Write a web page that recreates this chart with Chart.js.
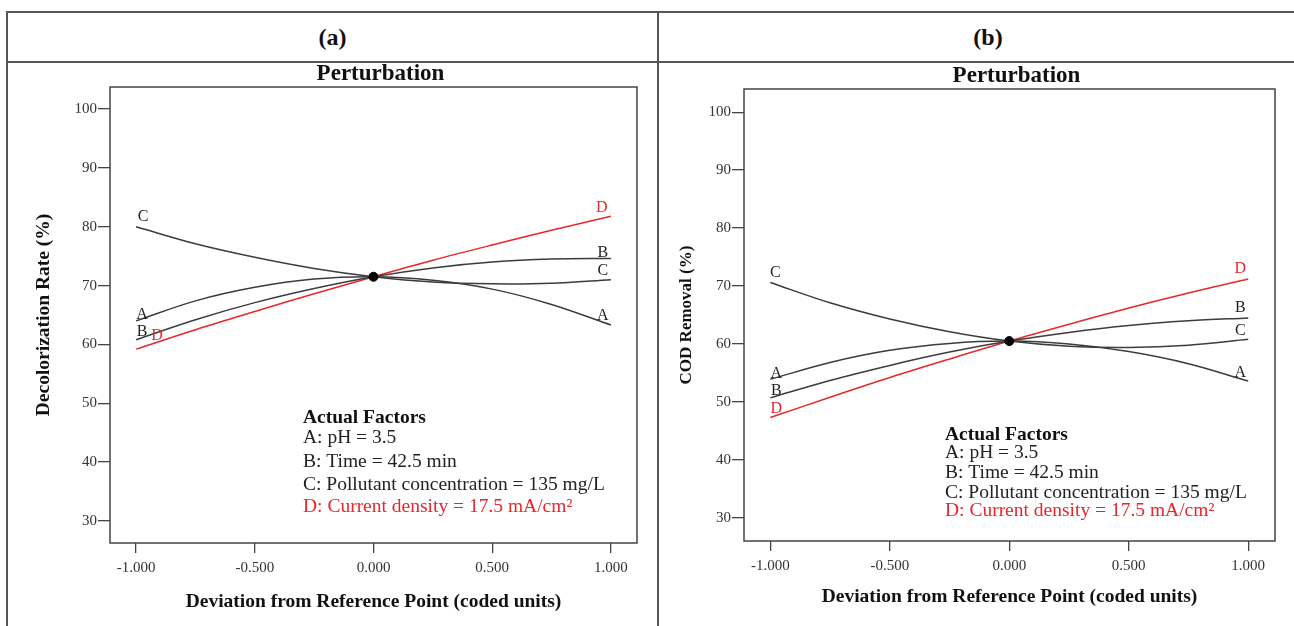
<!DOCTYPE html>
<html>
<head>
<meta charset="utf-8">
<script src="https://cdn.jsdelivr.net/npm/chart.js@4.4.1/dist/chart.umd.min.js"></script>
<style>
  html, body { margin: 0; padding: 0; background: #fff; }
  #page { position: relative; width: 1294px; height: 626px; overflow: hidden;
          font-family: "Liberation Serif", "Times New Roman", serif; }
  .hl { position: absolute; height: 2px; background: #555; }
  .vl { position: absolute; width: 2px; background: #555; }
  .head { position: absolute; top: 13px; height: 48px; line-height: 48px; text-align: center;
          font-weight: bold; font-size: 24px; color: #111; }
  .panel { position: absolute; top: 63px; height: 563px; }
  canvas { display: block; }
</style>
</head>
<body>
<div id="page">
  <div class="hl" style="left:6px;top:11px;width:1288px"></div>
  <div class="hl" style="left:6px;top:61px;width:1288px"></div>
  <div class="vl" style="left:6px;top:11px;height:615px"></div>
  <div class="vl" style="left:657px;top:11px;height:615px"></div>
  <div class="head" style="left:8px;width:649px">(a)</div>
  <div class="head" style="left:671px;width:634px">(b)</div>
  <div class="panel" style="left:8px;width:649px"><canvas id="chartA" width="649" height="563"></canvas></div>
  <div class="panel" style="left:660px;width:634px"><canvas id="chartB" width="634" height="563"></canvas></div>
</div>
<script>
// Coded deviation levels at which each perturbation curve is sampled
const xLevels = [-1, -0.75, -0.5, -0.25, 0, 0.25, 0.5, 0.75, 1];
const xTickValues = [-1, -0.5, 0, 0.5, 1];
const yTickValues = [30, 40, 50, 60, 70, 80, 90, 100];

// (a) Decolorization rate (%)
const decolA = [64.0, 67.4, 69.7, 71.1, 71.5, 70.9, 69.4, 66.8, 63.3];
const decolB = [60.8, 64.2, 67.1, 69.5, 71.5, 73.0, 74.0, 74.5, 74.6];
const decolC = [80.0, 77.1, 74.8, 72.9, 71.5, 70.6, 70.3, 70.4, 71.0];
const decolD = [59.2, 62.5, 65.6, 68.6, 71.5, 74.3, 76.9, 79.4, 81.8];
const decolRef = 71.5;

// (b) COD removal (%)
const codA = [53.9, 56.8, 58.9, 60.1, 60.5, 60.0, 58.7, 56.6, 53.6];
const codB = [50.7, 53.7, 56.3, 58.6, 60.5, 62.0, 63.2, 64.0, 64.5];
const codC = [70.6, 67.1, 64.3, 62.1, 60.5, 59.6, 59.4, 59.8, 60.8];
const codD = [47.3, 50.8, 54.2, 57.4, 60.5, 63.4, 66.2, 68.8, 71.2];
const codRef = 60.5;

const factorLetters = ['A', 'B', 'C', 'D'];
const factorHeading = 'Actual Factors';
const factorLines = [
  'A: pH = 3.5',
  'B: Time = 42.5 min',
  'C: Pollutant concentration = 135 mg/L',
  'D: Current density = 17.5 mA/cm\u00b2'
];

const SERIF = '"Liberation Serif", "Times New Roman", serif';
const GREY = '#3c3c3c';
const RED = '#e8262b';

// Frame, title, curve letters and the factor block
const panelDecor = {
  id: 'panelDecor',
  afterDatasetsDraw(chart, args, o) {
    const { ctx, chartArea: a } = chart;
    ctx.save();
    ctx.strokeStyle = '#444';
    ctx.lineWidth = 1.5;
    ctx.strokeRect(a.left, a.top, a.right - a.left, a.bottom - a.top);

    ctx.fillStyle = '#111';
    ctx.textAlign = 'center';
    ctx.textBaseline = 'middle';
    ctx.font = 'bold 23px ' + SERIF;
    ctx.fillText('Perturbation', (a.left + a.right) / 2 + o.titleDx, o.titleY);

    // letters at both ends of each curve
    ctx.font = '16px ' + SERIF;
    chart.data.datasets.forEach((ds, i) => {
      if (!ds.letter) return;
      const pts = chart.getDatasetMeta(i).data;
      const first = pts[0], last = pts[pts.length - 1];
      const s = o.startOffsets[ds.letter], e = o.endOffsets[ds.letter];
      ctx.fillStyle = ds.letter === 'D' ? RED : '#222';
      ctx.fillText(ds.letter, first.x + s[0], first.y + s[1]);
      ctx.fillText(ds.letter, last.x + e[0], last.y + e[1]);
    });

    // Actual Factors block
    ctx.textAlign = 'left';
    ctx.fillStyle = '#111';
    ctx.font = 'bold ' + o.factorSize + 'px ' + SERIF;
    const fx = a.left + o.factorDx;
    ctx.fillText(factorHeading, fx, o.factorY[0]);
    ctx.font = o.factorSize + 'px ' + SERIF;
    factorLines.forEach((t, k) => {
      ctx.fillStyle = k === 3 ? RED : '#222';
      ctx.fillText(t, fx, o.factorY[k + 1]);
    });
    ctx.restore();
  }
};

function makePanel(canvasId, g) {
  const series = [g.A, g.B, g.C, g.D];
  const datasets = series.map((vals, k) => ({
    letter: factorLetters[k],
    data: xLevels.map((x, j) => ({ x: x, y: vals[j] })),
    borderColor: factorLetters[k] === 'D' ? RED : GREY,
    borderWidth: 1.5,
    pointRadius: 0,
    tension: 0.35,
    fill: false,
    order: 2
  }));
  datasets.push({
    data: [{ x: 0, y: g.ref }],
    showLine: false,
    pointRadius: 4.5,
    pointBackgroundColor: '#000',
    pointBorderColor: '#000',
    order: 0
  });

  return new Chart(document.getElementById(canvasId), {
    type: 'line',
    data: { datasets },
    plugins: [panelDecor],
    options: {
      responsive: false,
      animation: false,
      devicePixelRatio: 1,
      layout: { padding: { left: 0, top: g.padTop, right: g.padRight, bottom: 0 } },
      plugins: {
        legend: { display: false },
        tooltip: { enabled: false },
        panelDecor: g.decor
      },
      scales: {
        x: {
          type: 'linear',
          min: g.xMin, max: g.xMax,
          afterBuildTicks: s => { s.ticks = xTickValues.map(v => ({ value: v })); },
          afterFit: s => { s.height = g.xHeight; },
          ticks: {
            autoSkip: false, maxRotation: 0, padding: 6, color: '#333',
            font: { family: SERIF, size: 15 },
            callback: v => Number(v).toFixed(3)
          },
          grid: { drawOnChartArea: false, drawTicks: true, tickLength: 10, color: '#444', lineWidth: 1.3 },
          border: { display: false },
          title: {
            display: true, text: 'Deviation from Reference Point (coded units)', color: '#111',
            font: { family: SERIF, size: 19.5, weight: 'bold' },
            padding: { top: 0, bottom: g.xTitlePad }
          }
        },
        y: {
          min: g.yMin, max: g.yMax,
          afterBuildTicks: s => { s.ticks = yTickValues.map(v => ({ value: v })); },
          afterFit: s => { s.width = g.yWidth; },
          ticks: {
            padding: 1, color: '#333',
            font: { family: SERIF, size: 15 },
            callback: v => String(v)
          },
          grid: { drawOnChartArea: false, drawTicks: true, tickLength: 12, color: '#444', lineWidth: 1.3 },
          border: { display: false },
          title: {
            display: true, text: g.yTitle, color: '#111',
            font: { family: SERIF, size: g.yTitleSize, weight: 'bold' },
            padding: { top: g.yTitlePad, bottom: 0 }
          }
        }
      }
    }
  });
}

makePanel('chartA', {
  A: decolA, B: decolB, C: decolC, D: decolD, ref: decolRef,
  yTitle: 'Decolorization Rate (%)', yTitleSize: 19.5,
  xMin: -1.11, xMax: 1.11, yMin: 26.25, yMax: 103.75,
  padTop: 24, padRight: 20, yWidth: 102, xHeight: 83,
  xTitlePad: 12, yTitlePad: 24,
  decor: {
    titleDx: 7, titleY: 11,
    factorDx: 193, factorSize: 19.5, factorY: [355, 375, 399, 422, 444],
    startOffsets: { A: [6, -6], B: [6, -8], C: [7, -10], D: [21, -13] },
    endOffsets: { A: [-8, -9], B: [-8, -6], C: [-8, -9], D: [-9, -8] }
  }
});

makePanel('chartB', {
  A: codA, B: codB, C: codC, D: codD, ref: codRef,
  yTitle: 'COD Removal (%)', yTitleSize: 17,
  xMin: -1.11, xMax: 1.112, yMin: 26.0, yMax: 104.0,
  padTop: 26, padRight: 19, yWidth: 84, xHeight: 85,
  xTitlePad: 17, yTitlePad: 16,
  decor: {
    titleDx: 7, titleY: 13,
    factorDx: 201, factorSize: 19.5, factorY: [372, 390, 410, 430, 448],
    startOffsets: { A: [6, -6], B: [6, -7], C: [5, -10], D: [6, -9] },
    endOffsets: { A: [-8, -8], B: [-8, -10], C: [-8, -9], D: [-8, -10] }
  }
});
</script>
</body>
</html>
